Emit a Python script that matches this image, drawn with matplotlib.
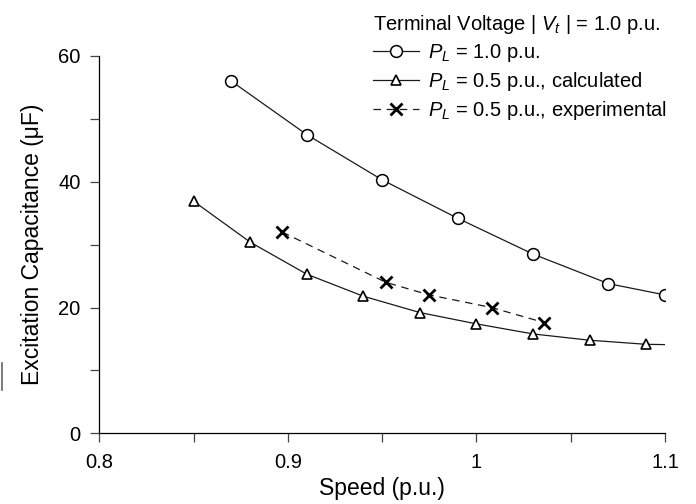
import matplotlib
matplotlib.use("Agg")
import matplotlib.pyplot as plt
from matplotlib.lines import Line2D
from matplotlib.ticker import MultipleLocator, FixedLocator

plt.rcParams['font.family'] = ['Liberation Sans', 'DejaVu Sans']
plt.rcParams['mathtext.fontset'] = 'custom'
plt.rcParams['mathtext.rm'] = 'Liberation Sans'
plt.rcParams['mathtext.it'] = 'Liberation Sans:italic'

# P_L = 1.0 p.u.
speed_full = [0.87, 0.91, 0.95, 0.99, 1.03, 1.07, 1.10]
cap_full = [56.0, 47.5, 40.3, 34.2, 28.5, 23.8, 22.0]

# P_L = 0.5 p.u., calculated (last point has no marker)
speed_calc = [0.85, 0.88, 0.91, 0.94, 0.97, 1.00, 1.03, 1.06, 1.09, 1.10]
cap_calc = [36.9, 30.4, 25.3, 21.8, 19.2, 17.4, 15.8, 14.8, 14.15, 14.1]

# P_L = 0.5 p.u., experimental
speed_exp = [0.897, 0.952, 0.975, 1.008, 1.036]
cap_exp = [32.0, 24.0, 22.0, 20.0, 17.6]

x_ticks = [0.8, 0.9, 1.0, 1.1]
x_ticklabels = ['0.8', '0.9', '1', '1.1']
y_ticks = [0, 20, 40, 60]

fig = plt.figure(figsize=(6.96, 5.04), dpi=100)
ax = fig.add_axes([0.1427, 0.1403, 0.8128, 0.7486])

lc = '#1a1a1a'
ax.plot(speed_full, cap_full, color=lc, lw=0.9, marker='o', ms=8.5,
        mfc='white', mec='black', mew=1.1,
        label=r'$P_L$ = 1.0 p.u.')
ax.plot(speed_calc, cap_calc, color=lc, lw=0.9, marker='^', ms=7.5,
        mfc='white', mec='black', mew=1.2, markevery=list(range(len(speed_calc) - 1)),
        label=r'$P_L$ = 0.5 p.u., calculated')
ax.plot(speed_exp, cap_exp, color=lc, lw=0.9, ls=(0, (6, 4.5)), marker='x', ms=8,
        mec='black', mew=2.0,
        label=r'$P_L$ = 0.5 p.u., experimental')

ax.set_xlim(0.8, 1.1)
ax.set_ylim(0, 60)
ax.xaxis.set_major_locator(FixedLocator(x_ticks))
ax.set_xticklabels(x_ticklabels)
ax.xaxis.set_minor_locator(FixedLocator([0.85, 0.95, 1.05]))
ax.yaxis.set_major_locator(FixedLocator(y_ticks))
ax.yaxis.set_minor_locator(MultipleLocator(10))

for side in ('top', 'right'):
    ax.spines[side].set_visible(False)
for side in ('left', 'bottom'):
    ax.spines[side].set_linewidth(0.9)
ax.tick_params(which='both', direction='out', length=6.5, width=0.9,
               color='#444444', labelsize=14.5)
ax.tick_params(axis='x', pad=8)
ax.tick_params(axis='y', pad=7)

ax.set_xlabel('Speed (p.u.)', fontsize=16.5, labelpad=3)
ax.set_ylabel('Excitation Capacitance (\u03bcF)', fontsize=16.5, labelpad=10)

leg = ax.legend(loc='upper left', bbox_to_anchor=(359 / 696, 1 + 1 / 504),
                bbox_transform=fig.transFigure, frameon=False,
                title=r'Terminal Voltage | $V_t$ | = 1.0 p.u.',
                fontsize=14.5, title_fontsize=14.5, handlelength=2.3,
                handletextpad=0.45, labelspacing=0.3, borderpad=0.2,
                alignment='left')

# small stray mark at the left edge of the original
fig.add_artist(Line2D([1.5 / 696, 1.5 / 696], [1 - 363 / 504, 1 - 390 / 504],
                      transform=fig.transFigure, color='#666666', lw=1.2))

fig.savefig('out.png', dpi=100)
